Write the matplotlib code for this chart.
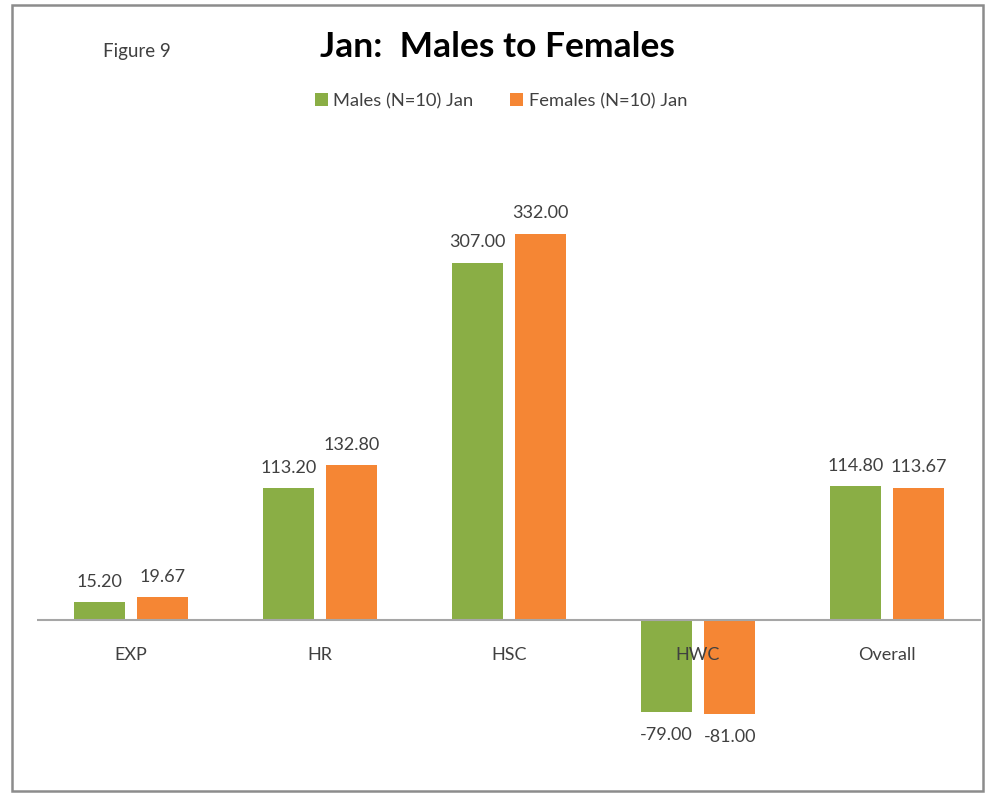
import matplotlib
matplotlib.use('Agg')
import matplotlib.pyplot as plt
from matplotlib.patches import Rectangle
import numpy as np

# data
categories = ["EXP", "HR", "HSC", "HWC", "Overall"]
males = [15.20, 113.20, 307.00, -79.00, 114.80]
females = [19.67, 132.80, 332.00, -81.00, 113.67]
series_names = ["Males (N=10) Jan", "Females (N=10) Jan"]

GREEN = '#8AAE45'
ORANGE = '#F58634'
TEXT = '#404040'
AXIS = '#A6A6A6'

plt.rcParams['font.family'] = ['Lato', 'DejaVu Sans']

fig = plt.figure(figsize=(9.87, 7.93), dpi=100)
fig.patch.set_facecolor('white')

# outer chart border
fig.add_artist(Rectangle((12 / 987, 1 - 791 / 793), (983 - 12) / 987, (791 - 5) / 793,
                         transform=fig.transFigure, fill=False,
                         edgecolor='#8C8C8C', linewidth=1.8))

ax = fig.add_axes([36.5 / 987, 23 / 793, 945 / 987, 620 / 793])
x = np.arange(len(categories))
w = 0.27
off = 0.168

b1 = ax.bar(x - off, males, w, color=GREEN, label=series_names[0], zorder=1)
b2 = ax.bar(x + off, females, w, color=ORANGE, label=series_names[1], zorder=1)

for bars, vals in ((b1, males), (b2, females)):
    for bar, v in zip(bars, vals):
        cx = bar.get_x() + bar.get_width() / 2
        if v >= 0:
            ax.annotate(f'{v:.2f}', (cx, v), xytext=(0, 9), textcoords='offset points',
                        ha='center', va='bottom', fontsize=13, color=TEXT)
        else:
            ax.annotate(f'{v:.2f}', (cx, v), xytext=(0, -11), textcoords='offset points',
                        ha='center', va='top', fontsize=13, color=TEXT)

ax.set_xlim(-0.5, len(categories) - 0.5)
ax.set_ylim(-129, 404)
ax.axhline(0, color=AXIS, linewidth=1.5, zorder=2)

# category labels sit just under the zero line (drawn over the negative bars)
for xi, name in zip(x, categories):
    ax.text(xi, -30, name, ha='center', va='center', fontsize=13, color=TEXT, zorder=5)

ax.set_xticks([])
ax.set_yticks([])
for spine in ax.spines.values():
    spine.set_visible(False)

fig.text(320 / 987, 1 - 47 / 793, "Jan:  Males to Females", fontsize=25.5,
         fontweight='bold', color='black', va='center', ha='left')
fig.text(103 / 987, 1 - 52 / 793, "Figure 9", fontsize=13.5, color=TEXT,
         va='center', ha='left')

fig.legend(handles=[b1, b2], labels=series_names, loc='center',
           bbox_to_anchor=(501 / 987, 1 - 101 / 793), ncol=2, frameon=False,
           fontsize=13.2, handlelength=0.7, handleheight=0.7, handletextpad=0.3,
           columnspacing=2.0, labelcolor=TEXT)

fig.savefig('out.png', dpi=100, facecolor='white')
